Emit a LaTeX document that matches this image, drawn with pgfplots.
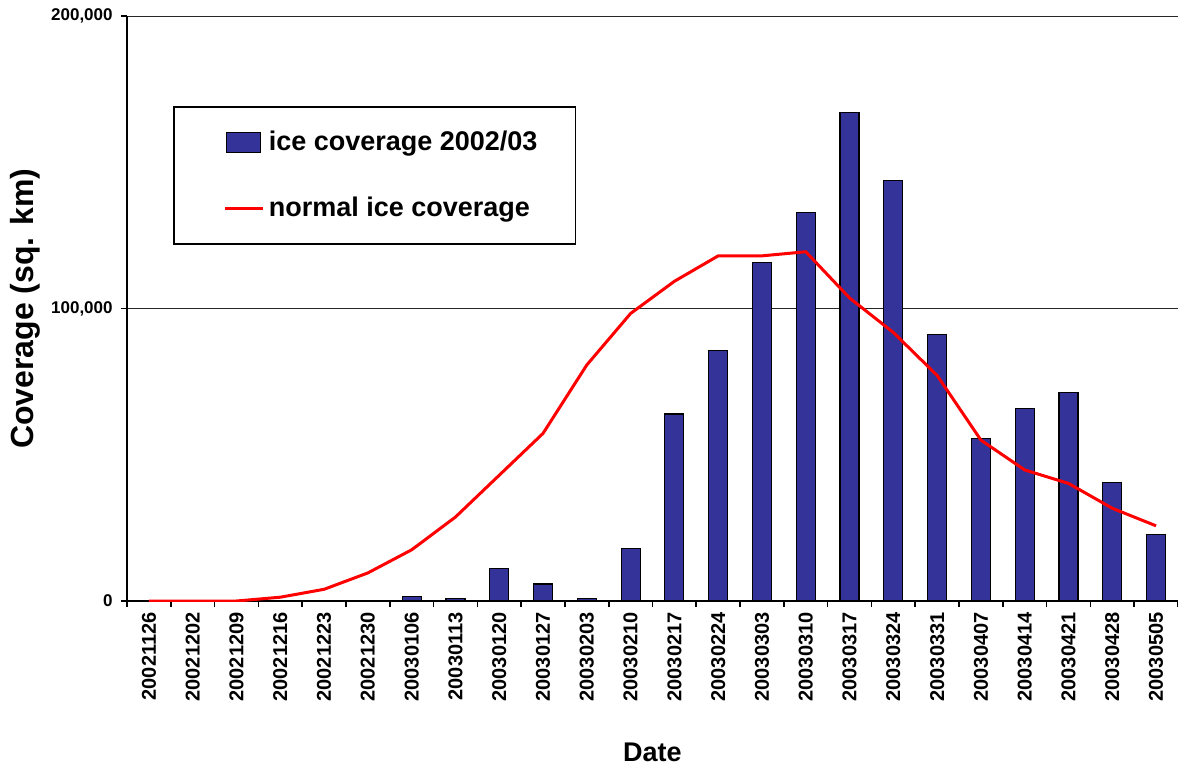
\documentclass[border=0pt]{standalone}
\usepackage{pgfplots}
\pgfplotsset{compat=1.18}
\usepackage{fontspec}
\setmainfont{Liberation Sans}
\definecolor{barblue}{HTML}{333399}
\begin{document}
\begin{tikzpicture}
\begin{axis}[
  scale only axis, width=525.5pt, height=292.5pt,
  xmin=-0.5, xmax=23.5, ymin=0, ymax=200000,
  axis x line*=bottom, axis y line*=left,
  axis line style={line width=1pt, -},
  tick align=outside, major tick length=3pt, minor tick length=3pt,
  tick style={black, line width=0.8pt},
  xtick={0,...,23},
  xticklabels={20021126,20021202,20021209,20021216,20021223,20021230,20030106,20030113,20030120,20030127,20030203,20030210,20030217,20030224,20030303,20030310,20030317,20030324,20030331,20030407,20030414,20030421,20030428,20030505},
  major x tick style={draw=none},
  minor xtick={-0.5,0.5,...,23.5},
  xticklabel style={rotate=90, anchor=east, inner ysep=0pt, inner xsep=2.5pt, font=\bfseries\fontsize{10}{12}\selectfont},
  ytick={0,100000,200000},
  yticklabels={0,{100,000},{200,000}},
  yticklabel style={inner xsep=4pt, inner ysep=0pt, font=\bfseries\fontsize{8.5}{10}\selectfont},
  ymajorgrids, major grid style={black!85, line width=0.5pt},
  ylabel={Coverage (sq. km)},
  ylabel style={at={(axis description cs:-0.097,0.5)}, anchor=center, font=\bfseries\fontsize{16}{19}\selectfont},
  xlabel={Date},
  xlabel style={at={(axis description cs:0.5,-0.258)}, anchor=center, font=\bfseries\fontsize{13.5}{16}\selectfont},
  legend style={at={(axis description cs:0.0438,0.846)}, anchor=north west, draw=black, line width=0.75pt,
    inner xsep=17pt, inner ysep=10pt, row sep=18pt, column sep=0pt,
    font=\bfseries\fontsize{13.5}{16}\selectfont, cells={anchor=west}},
  legend cell align=left,
]
\addplot[ybar, bar width=9.5pt, fill=barblue, draw=black, line width=0.6pt,
  legend image code/.code={\draw[fill=barblue, draw=black, line width=0.6pt] (0pt,-5pt) rectangle (17pt,5pt); \path (-8.5pt,0pt);}]
  coordinates {(0,0) (1,0) (2,0) (3,0) (4,0) (5,0) (6,1600) (7,900) (8,11200) (9,5800) (10,900) (11,18000) (12,63900) (13,85700) (14,115800) (15,132900) (16,167100) (17,143800) (18,91200) (19,55600) (20,65900) (21,71400) (22,40600) (23,22800)};
\addlegendentry{ice coverage 2002/03}
\addplot[red, line width=1.5pt, mark=none, sharp plot,
  legend image code/.code={\draw[red, line width=1.5pt] (-0.5pt,0pt) -- (18.5pt,0pt); \path (-8.5pt,0pt) (0pt,5pt) (0pt,-5pt);}]
  coordinates {(0,0) (1,0) (2,0) (3,1300) (4,4000) (5,9600) (6,17500) (7,28700) (8,43000) (9,57300) (10,80700) (11,98300) (12,109300) (13,118000) (14,118000) (15,119400) (16,103600) (17,91800) (18,77100) (19,55000) (20,44800) (21,40200) (22,31700) (23,25700)};
\addlegendentry{normal ice coverage}
\end{axis}
\pgfresetboundingbox
\path[use as bounding box] (-63.5pt,-83pt) rectangle (525.5pt,300.5pt);
\end{tikzpicture}
\end{document}
